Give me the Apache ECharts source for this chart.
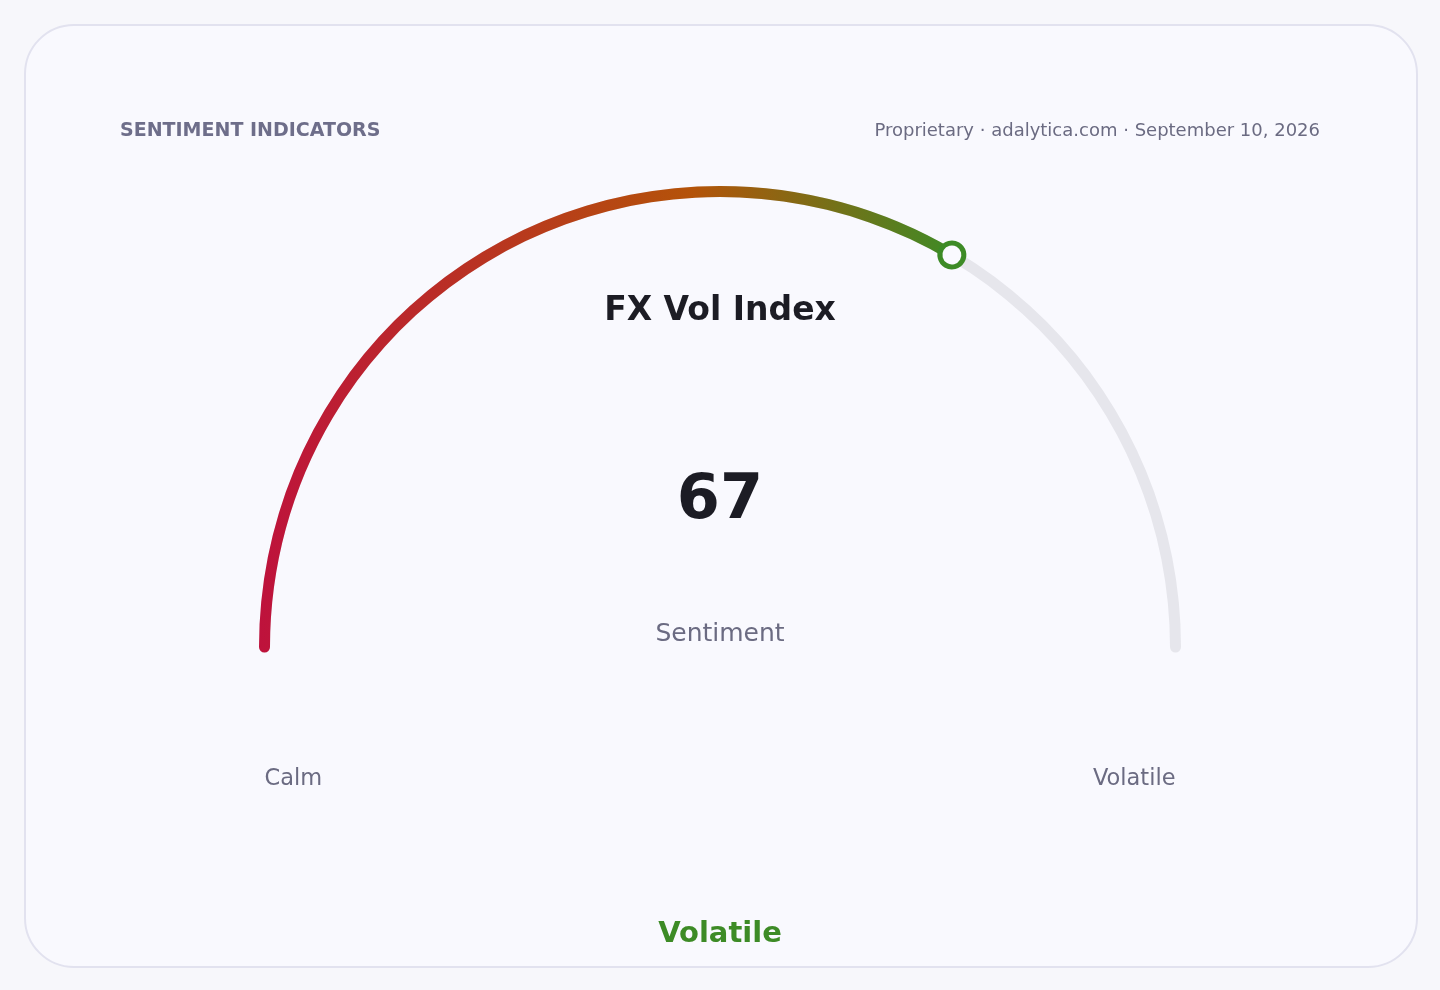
<!DOCTYPE html>
<html>
<head>
<meta charset="utf-8">
<script src="https://cdn.jsdelivr.net/npm/echarts@6/dist/echarts.min.js"></script>
<style>
  html, body { margin: 0; padding: 0; width: 1440px; height: 990px; background: #f7f7fb; overflow: hidden; }
  #card { position: absolute; left: 24px; top: 24px; width: 1390px; height: 940px; border: 2px solid #e2e2ef; border-radius: 50px; background: #f9f9fe; }
  #chart { position: absolute; left: 0; top: 0; width: 1440px; height: 990px; }
</style>
</head>
<body>
<div id="card"></div>
<div id="chart"></div>
<script>
const gaugeNames = ['FX Vol Index'];
const gaugeValues = [67];
const scaleRange = [0, 100];
const scaleEndLabels = ['Calm', 'Volatile'];
const valueCaption = 'Sentiment';
const regimeLabel = 'Volatile';
const headerLeft = 'SENTIMENT INDICATORS';
const headerRight = 'Proprietary · adalytica.com · September 10, 2026';

const FONT = 'DejaVu Sans';
const GREEN = '#3d8b26';
const MUTED = '#6b6b82';

const chart = echarts.init(document.getElementById('chart'), null, { renderer: 'canvas' });

const cx = 720, cy = 647, rOuter = 461, lineW = 11;
const rMid = rOuter - lineW / 2;
const markerSize = 24;

const common = {
  type: 'gauge',
  center: [cx, cy],
  radius: rOuter,
  startAngle: 180,
  endAngle: 0,
  min: scaleRange[0],
  max: scaleRange[1],
  splitLine: { show: false },
  axisTick: { show: false },
  axisLabel: { show: false },
  anchor: { show: false }
};

chart.setOption({
  backgroundColor: 'transparent',
  animation: false,
  graphic: [
    { type: 'text', left: 120, top: 122, style: { text: headerLeft, font: 'bold 19px "DejaVu Sans"', fill: '#6e6e8a' } },
    { type: 'text', right: 120, top: 122, style: { text: headerRight, font: '18px "DejaVu Sans"', fill: MUTED, textAlign: 'right' } },
    { type: 'text', x: cx, y: 634, style: { text: valueCaption, font: '25px "DejaVu Sans"', fill: MUTED, textAlign: 'center', textVerticalAlign: 'middle' } },
    { type: 'text', x: cx - rMid, y: 779, style: { text: scaleEndLabels[0], font: '22.5px "DejaVu Sans"', fill: MUTED, textAlign: 'left', textVerticalAlign: 'middle' } },
    { type: 'text', x: cx + rMid, y: 779, style: { text: scaleEndLabels[1], font: '22.5px "DejaVu Sans"', fill: MUTED, textAlign: 'right', textVerticalAlign: 'middle' } },
    { type: 'text', x: cx, y: 934, style: { text: regimeLabel, font: 'bold 29px "DejaVu Sans"', fill: GREEN, textAlign: 'center', textVerticalAlign: 'middle' } }
  ],
  series: [
    Object.assign({}, common, {
      z: 2,
      axisLine: { roundCap: true, lineStyle: { width: lineW, color: [[1, '#e6e6ec']] } },
      progress: {
        show: true,
        roundCap: true,
        width: lineW,
        itemStyle: {
          color: new echarts.graphic.LinearGradient(0, 0, 1, 0, [
            { offset: 0, color: '#be123c' },
            { offset: 0.62, color: '#b45309' },
            { offset: 1, color: GREEN }
          ])
        }
      },
      pointer: { show: false },
      title: { show: true, offsetCenter: [0, 311 - cy], fontFamily: FONT, fontSize: 33, fontWeight: 'bold', color: '#1c1c24' },
      detail: { show: true, offsetCenter: [0, 502 - cy], fontFamily: FONT, fontSize: 62, fontWeight: 'bold', color: '#1c1c24', formatter: '{value}' },
      data: gaugeNames.map((n, i) => ({ name: n, value: gaugeValues[i] }))
    }),
    Object.assign({}, common, {
      z: 5,
      axisLine: { show: false },
      progress: { show: false },
      pointer: {
        show: true,
        icon: 'circle',
        length: markerSize,
        width: markerSize,
        offsetCenter: [0, -(rMid - markerSize / 2)],
        keepAspect: true,
        itemStyle: { color: '#fafaff', borderColor: GREEN, borderWidth: 5 }
      },
      title: { show: false },
      detail: { show: false },
      data: gaugeNames.map((n, i) => ({ name: n, value: gaugeValues[i] }))
    })
  ]
});
</script>
</body>
</html>
